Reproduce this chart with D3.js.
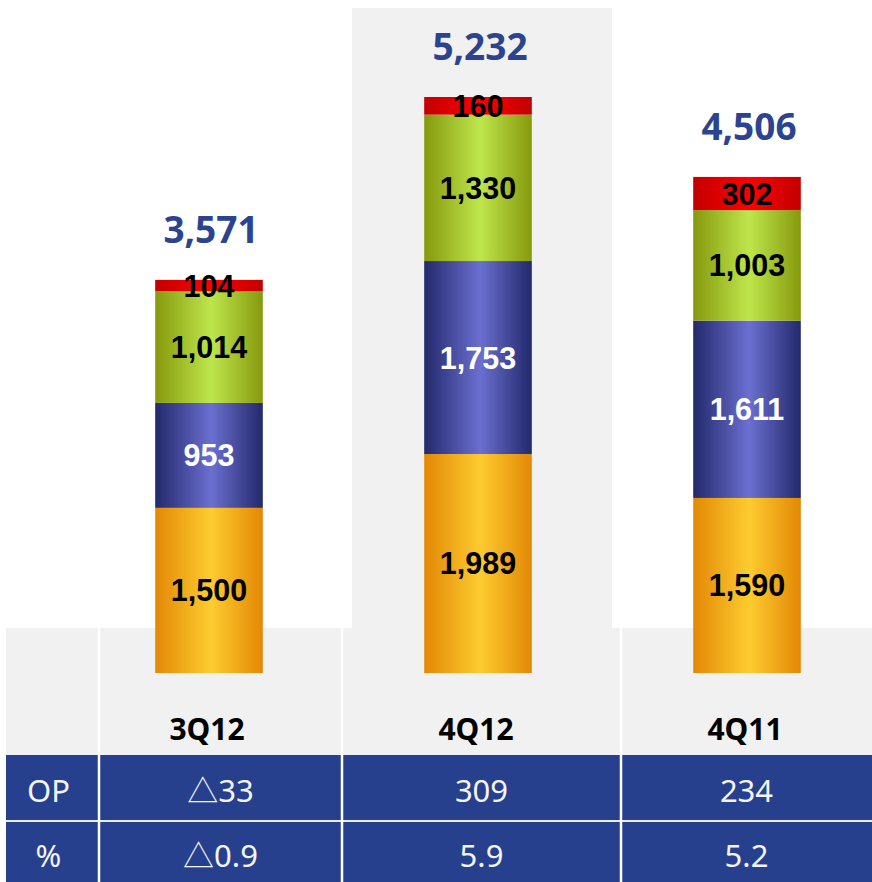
<!DOCTYPE html>
<html><head><meta charset="utf-8">
<script src="https://cdn.jsdelivr.net/npm/d3@7/dist/d3.min.js"></script>
<style>html,body{margin:0;padding:0;background:#fff;}svg{display:block;}</style>
</head><body>
<script>
const categories = ['3Q12', '4Q12', '4Q11'];
const seriesNames = ['orange', 'blue', 'green', 'red'];
const orangeVals = [1500, 1989, 1590];
const blueVals = [953, 1753, 1611];
const greenVals = [1014, 1330, 1003];
const redVals = [104, 160, 302];
const totals = [3571, 5232, 4506];
const opRowLabel = 'OP';
const opVals = ['△33', '309', '234'];
const pctRowLabel = '%';
const pctVals = ['△0.9', '5.9', '5.2'];

const W = 872, H = 882;
const svg = d3.select('body').append('svg').attr('width', W).attr('height', H);
const defs = svg.append('defs');

const grads = {
  orange: ['#e38805', '#fdcc30', '#e38805'],
  blue: ['#22296b', '#6b6fd0', '#22296b'],
  green: ['#86990c', '#bee64c', '#86990c'],
  red: ['#c20000', '#ff0000', '#c20000']
};
Object.entries(grads).forEach(([k, c]) => {
  const g = defs.append('linearGradient').attr('id', 'g-' + k).attr('x1', '0').attr('x2', '1').attr('y1', '0').attr('y2', '0');
  g.append('stop').attr('offset', '0%').attr('stop-color', c[0]);
  g.append('stop').attr('offset', '52%').attr('stop-color', c[1]);
  g.append('stop').attr('offset', '100%').attr('stop-color', c[2]);
});

const x = d3.scaleBand().domain(categories).range([74.5, 881.5]).paddingInner(0.6).paddingOuter(0.3);
const y = d3.scaleLinear().domain([0, 5232]).range([673, 97]);

// table column boundaries
const colEdges = [6, 99, 342, 621, 872];
const bandTop = 628, tableTop = 755, rowSplit = 821, tableBottom = 882;

// highlighted column background for 4Q12
svg.append('rect').attr('x', 352).attr('y', 8).attr('width', 260).attr('height', bandTop - 8 + 1).attr('fill', '#f1f1f1');
// gray band
svg.append('rect').attr('x', colEdges[0]).attr('y', bandTop).attr('width', W - colEdges[0]).attr('height', tableTop - bandTop).attr('fill', '#f1f1f1');
// blue table
svg.append('rect').attr('x', colEdges[0]).attr('y', tableTop).attr('width', W - colEdges[0]).attr('height', tableBottom - tableTop).attr('fill', '#27408e');
// row separator
svg.append('rect').attr('x', colEdges[0]).attr('y', rowSplit - 1).attr('width', W - colEdges[0]).attr('height', 2).attr('fill', '#e8ecf5');
// column separators
[colEdges[1], colEdges[2], colEdges[3]].forEach(cx => {
  svg.append('rect').attr('x', cx - 1.25).attr('y', bandTop).attr('width', 2.5).attr('height', tableBottom - bandTop).attr('fill', '#ffffff');
});

// stacked bars
const stackData = categories.map((c, i) => ({cat: c, orange: orangeVals[i], blue: blueVals[i], green: greenVals[i], red: redVals[i]}));
const stacked = d3.stack().keys(seriesNames)(stackData);
const labelColor = {orange: '#000', blue: '#fff', green: '#000', red: '#000'};

stacked.forEach(layer => {
  const g = svg.append('g');
  g.selectAll('rect').data(layer).join('rect')
    .attr('x', d => x(d.data.cat))
    .attr('width', x.bandwidth())
    .attr('y', d => y(d[1]))
    .attr('height', d => y(d[0]) - y(d[1]))
    .attr('fill', 'url(#g-' + layer.key + ')');
});
stacked.forEach(layer => {
  svg.append('g').selectAll('text').data(layer).join('text')
    .attr('x', d => x(d.data.cat) + x.bandwidth() / 2)
    .attr('y', d => (y(d[0]) + y(d[1])) / 2)
    .attr('dy', '0.36em')
    .attr('text-anchor', 'middle')
    .attr('font-family', '"Liberation Sans", Arial, sans-serif')
    .attr('font-weight', 'bold')
    .attr('font-size', 30.5)
    .attr('fill', labelColor[layer.key])
    .text(d => d3.format(',')(d[1] - d[0]));
});

// totals
svg.append('g').selectAll('text').data(categories).join('text')
  .attr('x', (c) => x(c) + x.bandwidth() / 2 + 2)
  .attr('y', (c, i) => y(totals[i]) - 37)
  .attr('text-anchor', 'middle')
  .attr('font-family', '"Noto Sans", "Open Sans", sans-serif')
  .attr('font-weight', 'bold')
  .attr('font-size', 37)
  .attr('fill', '#2c4391')
  .text((c, i) => d3.format(',')(totals[i]));

// category labels
svg.append('g').selectAll('text').data(categories).join('text')
  .attr('x', c => x(c) + x.bandwidth() / 2 - 2)
  .attr('y', 740)
  .attr('text-anchor', 'middle')
  .attr('font-family', '"Noto Sans", sans-serif')
  .attr('font-weight', 'bold')
  .attr('font-size', 30)
  .attr('fill', '#000')
  .text(c => c);

// table text
const colCenters = [0, 1, 2, 3].map(i => (colEdges[i] + colEdges[i + 1]) / 2);
const rows = [{label: opRowLabel, vals: opVals, yb: 802}, {label: pctRowLabel, vals: pctVals, yb: 867}];
rows.forEach(r => {
  const cells = [r.label].concat(r.vals);
  svg.append('g').selectAll('text').data(cells).join('text')
    .attr('x', (d, i) => colCenters[i] - (i === 0 ? 4 : 0))
    .attr('y', r.yb)
    .attr('text-anchor', 'middle')
    .attr('font-family', '"Noto Sans", "Noto Sans CJK KR", sans-serif')
    .attr('font-size', 31)
    .attr('fill', '#f4f4f4')
    .text(d => d);
});
</script>
</body></html>
